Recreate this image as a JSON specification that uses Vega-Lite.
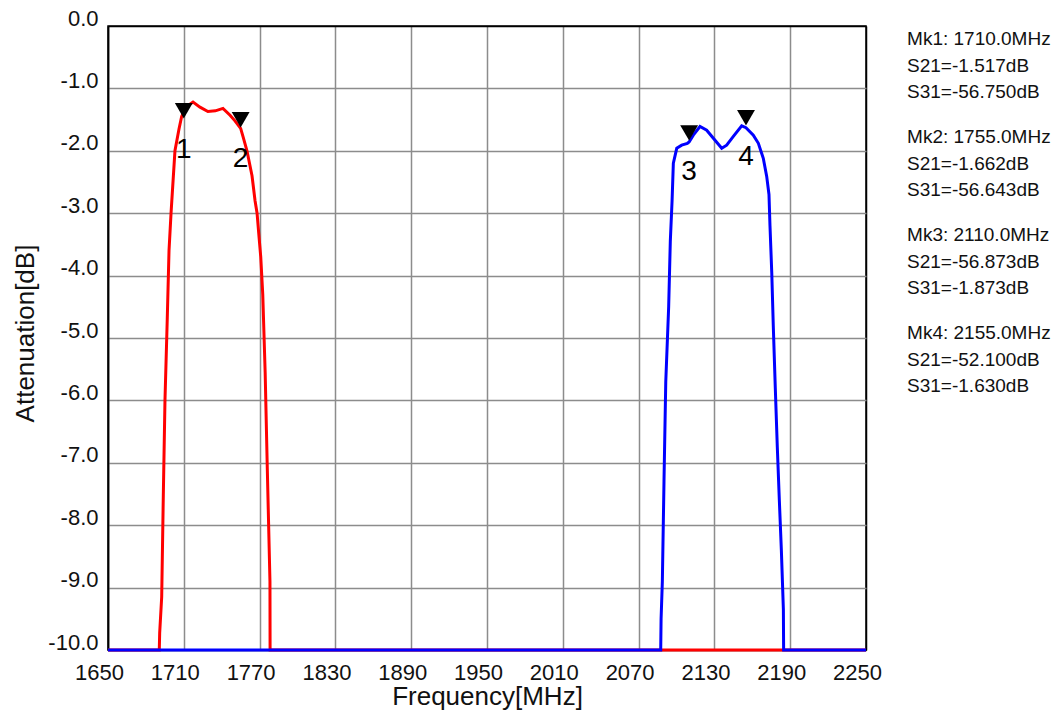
{
  "$schema": "https://vega.github.io/schema/vega-lite/v6.json",
  "autosize": "none",
  "width": 758,
  "height": 624,
  "padding": {"left": 108, "top": 26, "right": 195, "bottom": 61},
  "background": "white",
  "config": {"font": "Liberation Sans", "view": {"stroke": "#000", "strokeWidth": 1.5}},
  "datasets": {
    "curves": [
      {"trace": "S21", "f": 1650, "db": -10},
      {"trace": "S21", "f": 1690.6, "db": -10},
      {"trace": "S21", "f": 1690.9, "db": -9.73},
      {"trace": "S21", "f": 1692.5, "db": -9.15},
      {"trace": "S21", "f": 1693.8, "db": -7.5},
      {"trace": "S21", "f": 1695.1, "db": -6.0},
      {"trace": "S21", "f": 1696.9, "db": -4.7},
      {"trace": "S21", "f": 1698.3, "db": -3.6},
      {"trace": "S21", "f": 1699.9, "db": -3.0},
      {"trace": "S21", "f": 1703.0, "db": -2.0},
      {"trace": "S21", "f": 1706.2, "db": -1.65},
      {"trace": "S21", "f": 1708.3, "db": -1.45},
      {"trace": "S21", "f": 1710.0, "db": -1.38},
      {"trace": "S21", "f": 1713.0, "db": -1.28},
      {"trace": "S21", "f": 1717.3, "db": -1.22},
      {"trace": "S21", "f": 1722.8, "db": -1.3},
      {"trace": "S21", "f": 1729.1, "db": -1.37},
      {"trace": "S21", "f": 1735.0, "db": -1.36},
      {"trace": "S21", "f": 1741.0, "db": -1.32},
      {"trace": "S21", "f": 1746.6, "db": -1.43},
      {"trace": "S21", "f": 1750.5, "db": -1.52},
      {"trace": "S21", "f": 1755.0, "db": -1.64},
      {"trace": "S21", "f": 1757.0, "db": -1.78},
      {"trace": "S21", "f": 1760.0, "db": -2.0},
      {"trace": "S21", "f": 1764.0, "db": -2.4},
      {"trace": "S21", "f": 1766.4, "db": -2.8},
      {"trace": "S21", "f": 1768.0, "db": -3.0},
      {"trace": "S21", "f": 1769.3, "db": -3.32},
      {"trace": "S21", "f": 1770.9, "db": -3.7},
      {"trace": "S21", "f": 1772.5, "db": -4.3},
      {"trace": "S21", "f": 1774.4, "db": -5.55},
      {"trace": "S21", "f": 1776.1, "db": -7.1},
      {"trace": "S21", "f": 1778.2, "db": -8.9},
      {"trace": "S21", "f": 1778.3, "db": -10},
      {"trace": "S21", "f": 2250, "db": -10},
      {"trace": "S31", "f": 1650, "db": -10},
      {"trace": "S31", "f": 2087.5, "db": -10},
      {"trace": "S31", "f": 2087.8, "db": -9.5},
      {"trace": "S31", "f": 2088.8, "db": -8.9},
      {"trace": "S31", "f": 2090.1, "db": -7.3},
      {"trace": "S31", "f": 2091.5, "db": -5.7},
      {"trace": "S31", "f": 2093.8, "db": -4.5},
      {"trace": "S31", "f": 2095.1, "db": -3.45},
      {"trace": "S31", "f": 2096.5, "db": -2.8},
      {"trace": "S31", "f": 2097.5, "db": -2.2},
      {"trace": "S31", "f": 2100.2, "db": -1.96},
      {"trace": "S31", "f": 2104.1, "db": -1.91},
      {"trace": "S31", "f": 2108.6, "db": -1.88},
      {"trace": "S31", "f": 2110.0, "db": -1.86},
      {"trace": "S31", "f": 2113.3, "db": -1.75},
      {"trace": "S31", "f": 2118.6, "db": -1.61},
      {"trace": "S31", "f": 2123.9, "db": -1.67},
      {"trace": "S31", "f": 2130.5, "db": -1.83},
      {"trace": "S31", "f": 2135.8, "db": -1.96},
      {"trace": "S31", "f": 2139.7, "db": -1.91},
      {"trace": "S31", "f": 2145.0, "db": -1.77},
      {"trace": "S31", "f": 2151.6, "db": -1.6},
      {"trace": "S31", "f": 2155.0, "db": -1.63},
      {"trace": "S31", "f": 2160.8, "db": -1.75},
      {"trace": "S31", "f": 2164.8, "db": -1.88},
      {"trace": "S31", "f": 2168.7, "db": -2.12},
      {"trace": "S31", "f": 2171.4, "db": -2.41},
      {"trace": "S31", "f": 2173.2, "db": -2.7},
      {"trace": "S31", "f": 2174.0, "db": -3.2},
      {"trace": "S31", "f": 2175.4, "db": -3.95},
      {"trace": "S31", "f": 2176.6, "db": -4.8},
      {"trace": "S31", "f": 2178.2, "db": -5.8},
      {"trace": "S31", "f": 2179.8, "db": -6.75},
      {"trace": "S31", "f": 2181.4, "db": -7.6},
      {"trace": "S31", "f": 2183.0, "db": -8.4},
      {"trace": "S31", "f": 2184.6, "db": -9.35},
      {"trace": "S31", "f": 2184.8, "db": -10},
      {"trace": "S31", "f": 2250, "db": -10}
    ],
    "markers": [
      {"mk": "1", "f": 1710, "db": -1.517},
      {"mk": "2", "f": 1755, "db": -1.662},
      {"mk": "3", "f": 2110, "db": -1.873},
      {"mk": "4", "f": 2155, "db": -1.630}
    ],
    "readout": [
      {"mk": "Mk1", "text": "Mk1: 1710.0MHz\n\u00a0S21=-1.517dB\n\u00a0S31=-56.750dB"},
      {"mk": "Mk2", "text": "Mk2: 1755.0MHz\n\u00a0S21=-1.662dB\n\u00a0S31=-56.643dB"},
      {"mk": "Mk3", "text": "Mk3: 2110.0MHz\n\u00a0S21=-56.873dB\n\u00a0S31=-1.873dB"},
      {"mk": "Mk4", "text": "Mk4: 2155.0MHz\n\u00a0S21=-52.100dB\n\u00a0S31=-1.630dB"}
    ]
  },
  "layer": [
    {
      "layer": [
        {
          "data": {"name": "curves"},
          "mark": {"type": "line", "strokeWidth": 3, "clip": false},
          "encoding": {
            "x": {
              "field": "f", "type": "quantitative",
              "scale": {"domain": [1650, 2250], "nice": false, "zero": false},
              "axis": {
                "values": [1650, 1710, 1770, 1830, 1890, 1950, 2010, 2070, 2130, 2190, 2250],
                "format": "d",
                "labelFontSize": 22, "labelColor": "#111", "labelOffset": -9, "labelPadding": 12,
                "labelFlush": false, "labelOverlap": false, "labelBound": false,
                "ticks": false, "domain": false,
                "grid": true, "gridWidth": 1.5,
                "gridColor": {"condition": {"test": "datum.value == 1650 || datum.value == 2250", "value": "#000"}, "value": "#8c8c8c"},
                "title": "Frequency[MHz]", "titleFontSize": 26, "titleFontWeight": "normal", "titleColor": "#111",
                "titleY": 54, "titleBaseline": "alphabetic"
              }
            },
            "y": {
              "field": "db", "type": "quantitative",
              "scale": {"domain": [-10, 0], "nice": false, "zero": false},
              "axis": {
                "values": [0, -1, -2, -3, -4, -5, -6, -7, -8, -9, -10],
                "labelExpr": "(datum.value < 0 ? '-' : '') + format(abs(datum.value), '.1f')",
                "labelFontSize": 22, "labelColor": "#111", "labelOffset": -8, "labelPadding": 10,
                "labelOverlap": false, "labelBound": false, "labelFlush": false,
                "ticks": false, "domain": true, "domainColor": "#000", "domainWidth": 1.5,
                "grid": true, "gridWidth": 1.5,
                "gridColor": {"condition": {"test": "datum.value == 0 || datum.value == -10", "value": "#000"}, "value": "#8c8c8c"},
                "title": "Attenuation[dB]", "titleFontSize": 26, "titleFontWeight": "normal", "titleColor": "#111",
                "titleX": -75, "titleY": 307, "titleBaseline": "alphabetic"
              }
            },
            "color": {
              "field": "trace", "type": "nominal",
              "scale": {"domain": ["S21", "S31"], "range": ["#ff0000", "#0000ff"]},
              "legend": null
            }
          }
        },
        {
          "data": {"name": "markers"},
          "mark": {"type": "point", "shape": "triangle-down", "filled": true, "color": "#000", "opacity": 1, "size": 320, "yOffset": -10},
          "encoding": {
            "x": {"field": "f", "type": "quantitative"},
            "y": {"field": "db", "type": "quantitative"}
          }
        },
        {
          "data": {"name": "markers"},
          "mark": {"type": "text", "fontSize": 28, "dy": 29, "baseline": "middle", "align": "center", "color": "#000"},
          "encoding": {
            "x": {"field": "f", "type": "quantitative"},
            "y": {"field": "db", "type": "quantitative"},
            "text": {"field": "mk", "type": "nominal"}
          }
        }
      ]
    },
    {
      "data": {"name": "readout"},
      "mark": {"type": "text", "align": "left", "baseline": "top", "fontSize": 19, "lineBreak": "\n", "lineHeight": 26.5, "color": "#111", "clip": false},
      "encoding": {
        "x": {"datum": 2282.5, "type": "quantitative", "scale": {"domain": [1650, 2250], "nice": false, "zero": false}},
        "y": {"field": "mk", "type": "ordinal", "scale": {"type": "point", "range": [4, 298], "padding": 0}, "axis": null},
        "text": {"field": "text", "type": "nominal"}
      }
    }
  ],
  "resolve": {"scale": {"y": "independent"}}
}
